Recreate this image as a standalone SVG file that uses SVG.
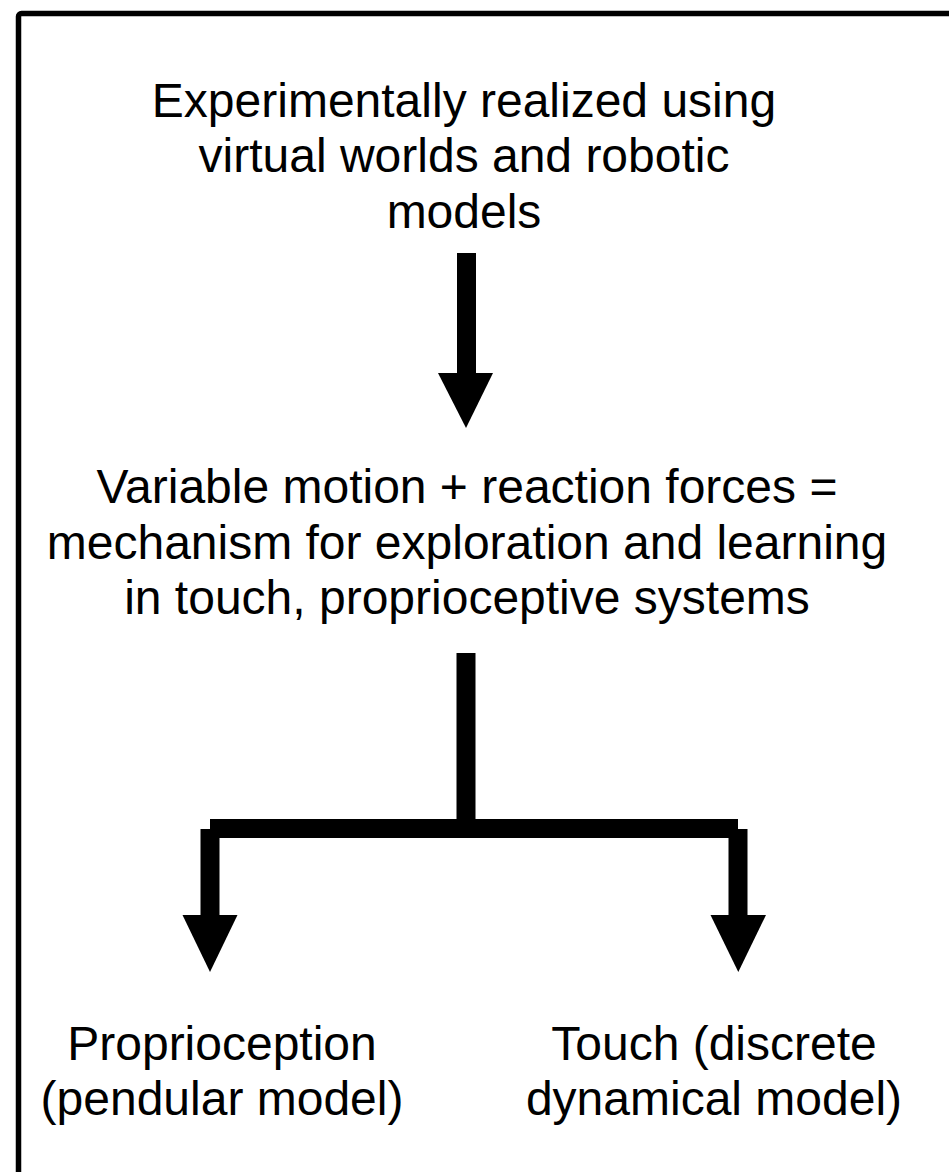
<svg xmlns="http://www.w3.org/2000/svg" width="949" height="1172" viewBox="0 0 949 1172">
  <style>
    .t { font-family: "Liberation Sans", Arial, sans-serif; font-size: 48px; fill: #000; text-anchor: middle; }
    .ln { stroke: #000; stroke-width: 19; fill: none; stroke-linecap: butt; }
    .hd { fill: #000; }
  </style>
  <rect x="0" y="0" width="949" height="1172" fill="#fff"/>
  <rect id="frame" x="18.5" y="13.5" width="1000" height="1300" rx="3" fill="none" stroke="#000" stroke-width="5.5"/>
  <g id="node-top">
    <text class="t" x="464" y="117">Experimentally realized using</text>
    <text class="t" x="464" y="172">virtual worlds and robotic</text>
    <text class="t" x="464" y="228">models</text>
  </g>
  <g id="node-middle">
    <text class="t" x="467" y="503">Variable motion + reaction forces =</text>
    <text class="t" x="467" y="559">mechanism for exploration and learning</text>
    <text class="t" x="467" y="614">in touch, proprioceptive systems</text>
  </g>
  <g id="node-left">
    <text class="t" x="222" y="1060">Proprioception</text>
    <text class="t" x="222" y="1115">(pendular model)</text>
  </g>
  <g id="node-right">
    <text class="t" x="714" y="1060">Touch (discrete</text>
    <text class="t" x="714" y="1115">dynamical model)</text>
  </g>
  <g id="connectors">
    <line class="ln" x1="466.5" y1="253" x2="466.5" y2="374"/>
    <polygon class="hd" points="438,373 493,373 466,428"/>
    <line class="ln" x1="466" y1="653" x2="466" y2="829"/>
    <line class="ln" x1="210" y1="828.5" x2="738" y2="828.5"/>
    <line class="ln" x1="210" y1="829" x2="210" y2="916"/>
    <polygon class="hd" points="182.5,915 237.5,915 210,972"/>
    <line class="ln" x1="738" y1="829" x2="738" y2="916"/>
    <polygon class="hd" points="710.5,915 766,915 738.3,972"/>
  </g>
</svg>
